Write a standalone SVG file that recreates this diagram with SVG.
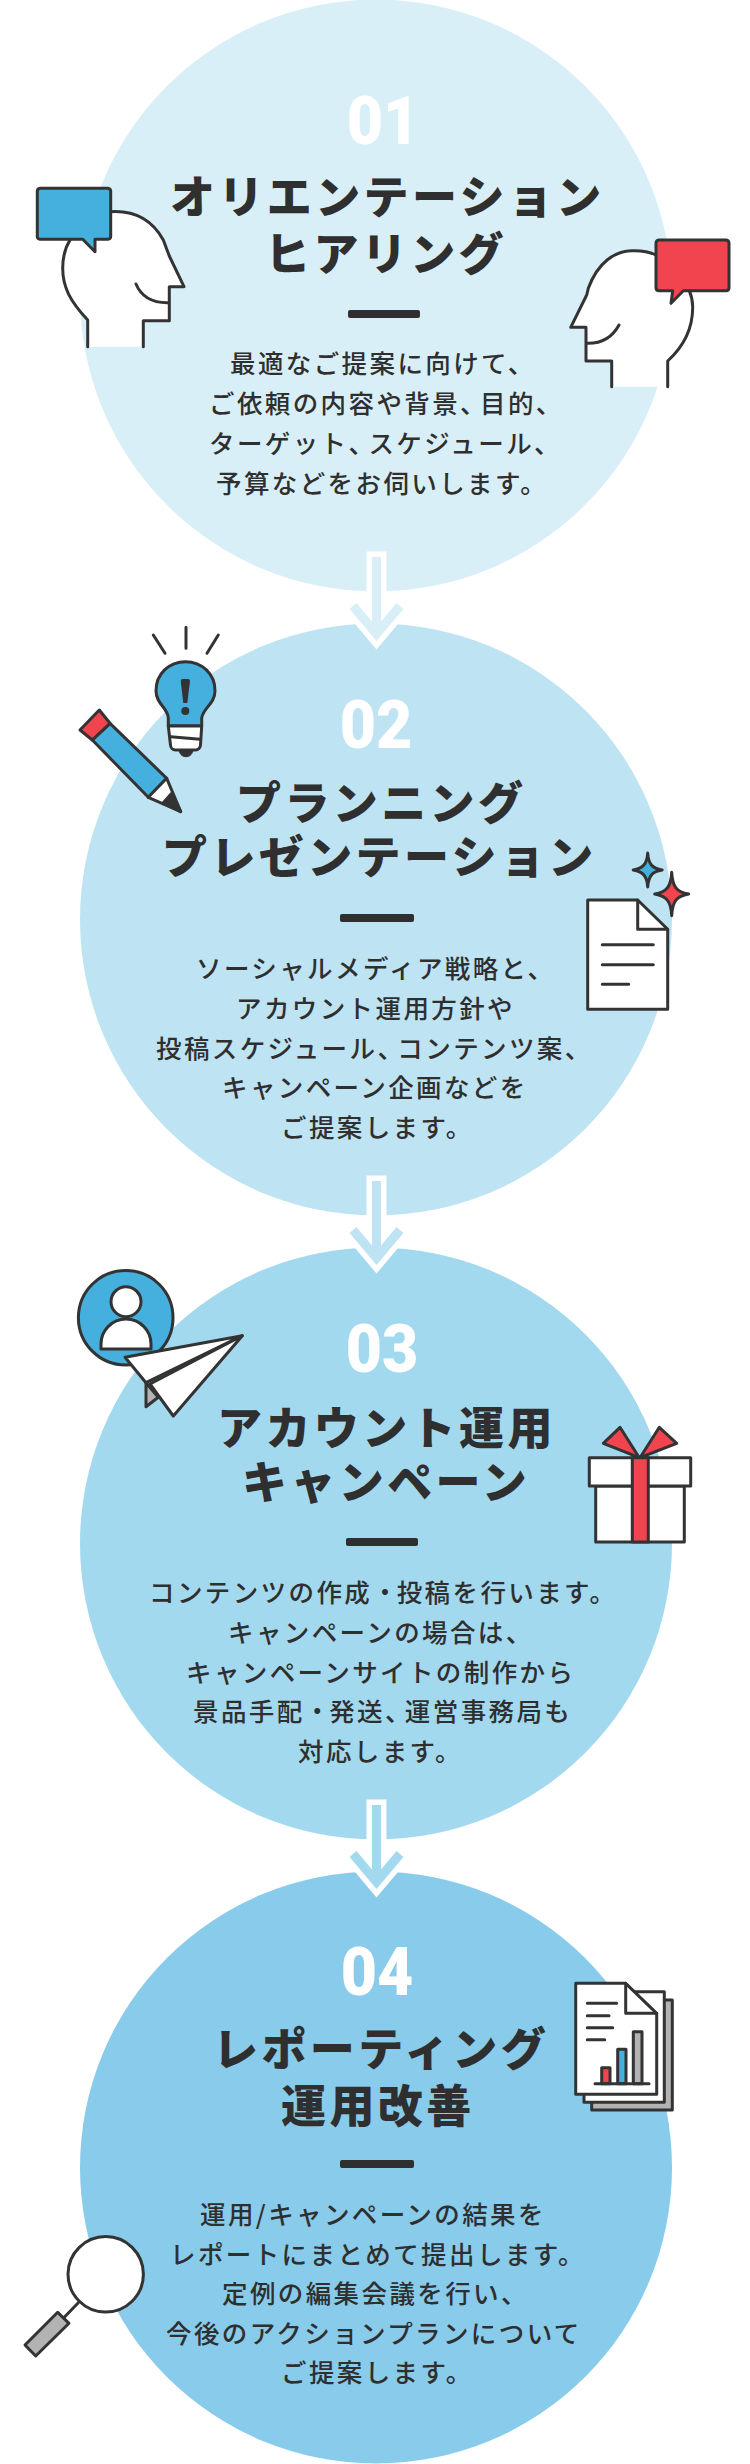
<svg xmlns="http://www.w3.org/2000/svg" width="750" height="2464" viewBox="0 0 750 2464">
<style>
text{font-family:"Noto Sans CJK JP","Noto Sans",sans-serif;fill:#2f2f2f}
.num{font-family:Roboto,"Liberation Sans",sans-serif;font-weight:900;font-size:66px;fill:#fff;text-anchor:middle}
.h{font-weight:900;font-size:45px;letter-spacing:3.4px}
.b{font-weight:500;font-size:25.5px;letter-spacing:2.4px}
.c{letter-spacing:-5.6px}
.n{letter-spacing:-1px}
.bar{fill:#2f2f2f}
.i{stroke:#333;stroke-width:3;stroke-linejoin:round;stroke-linecap:round}
.l{fill:none}
.w{fill:#fff}.bl{fill:#45b0dd}.r{fill:#f2444e}.g{fill:#b3b3b3}.d{fill:#333}
</style>
<g id="node-1">
<circle cx="376" cy="295.5" r="296" fill="#d9eff8"/>
<text class="num" transform="translate(383 144) scale(.95 1)">01</text>
<text class="h" x="170" y="213.5">オリエンテーション</text>
<text class="h" x="265" y="270.5">ヒアリング</text>
<rect class="bar" x="348" y="310" width="72" height="8" rx="2"/>
<text class="b" x="230" y="372.5">最適なご提案に向けて、</text>
<text class="b" x="209" y="412.5">ご依頼の内容や背景<tspan class="c">、</tspan>目的、</text>
<text class="b" x="209" y="452.5">ターゲット<tspan class="c">、</tspan>スケジュール、</text>
<text class="b" x="216" y="492.5">予算などをお伺いします。</text>
<g class="i">
<path class="w" stroke="none" d="M87.7 346.7V320C70 301 62.7 287 62.7 268.3 62.7 258 65 248 70 240L110.7 211.7C140 210 155 225 163.3 240L169.3 256 184 286.7H169.3V320.7H143.3V346.7Z"/>
<path class="l" d="M110.7 211.7C140 210 155 225 163.3 240L169.3 256 184 286.7H169.3V320.7H143.3V346.7M87.7 346.7V320C70 301 62.7 287 62.7 268.3 62.7 258 65 248 70 240M136 284C141 296 152 303 168.3 302.7"/>
<path class="bl" d="M40 188.3H108A3 3 0 0 1 110.7 191V236.5A3 3 0 0 1 108 239.3H95V251.7L82.7 239.3H40A3 3 0 0 1 37.3 236.5V191A3 3 0 0 1 40 188.3Z"/>
<path class="w" stroke="none" d="M611.7 386.7V361H586V327.3H570.7L586.7 295 588.3 288.3C598 262 615 251 632 250.7 640 250.5 650 252 656 255L689.3 290.7C692 297 692.7 302 692.7 307.3 692.7 330 682 348 667.7 361V386.7Z"/>
<path class="l" d="M611.7 386.7V361H586V327.3H570.7L586.7 295 588.3 288.3C598 262 615 251 632 250.7 640 250.5 650 252 656 255M689.3 290.7C692 297 692.7 302 692.7 307.3 692.7 330 682 348 667.7 361V386.7M619 325C612 338 602 344 586 343.3"/>
<path class="r" d="M659 240H726A3 3 0 0 1 729 243V288A3 3 0 0 1 726 290.7H683.3L671 303.3 672.7 290.7H659A3 3 0 0 1 656 288V243A3 3 0 0 1 659 240Z"/>
</g>
</g>
<g id="node-2">
<circle cx="376" cy="919.5" r="296" fill="#bee3f3"/>
<text class="num" transform="translate(376 748) scale(.95 1)">02</text>
<text class="h" x="236" y="819.5">プランニング</text>
<text class="h" x="162" y="873.5">プレゼンテーション</text>
<rect class="bar" x="340" y="914" width="74" height="8" rx="2"/>
<text class="b" x="196" y="977.5">ソーシャルメディア戦略と、</text>
<text class="b" x="236" y="1017.5">アカウント運用方針や</text>
<text class="b" x="156" y="1057.5">投稿スケジュール<tspan class="c">、</tspan>コンテンツ案、</text>
<text class="b" x="222" y="1096.5">キャンペーン企画などを</text>
<text class="b" x="281" y="1136.5">ご提案します。</text>
<g class="i">
<path class="l" d="M153.3 635 165 653.3M186 627.3V648.3M218.3 635 207 653.3"/>
<path class="bl" d="M168.3 726V718C168 708 156 704 156 690.7 156 674 169 661.7 185.5 661.7S215 674 215 690.7C215 704 203 708 201.7 718V726Z"/>
<path class="w" d="M168.3 726H201.7L200.5 745A5 5 0 0 1 195.5 750H175.5A5 5 0 0 1 170.5 745Z"/>
<path class="l" d="M170.7 736.7 200 739.3"/>
<path class="d" stroke-width="1" d="M179.3 751H192.7C192 755 189 756.7 186 756.7S180 755 179.3 751Z"/>
<path class="d" stroke="none" d="M180.7 681A2 2 0 0 1 182.7 679H188A2 2 0 0 1 190 681L187.3 703H183.3Z"/>
<circle class="d" stroke="none" cx="185.3" cy="711" r="4"/>
<path class="bl" d="M110 723.3 166.7 778.3 148.3 797.3 92.3 740Z"/>
<path class="r" d="M99.3 710 110 723.3 92.3 740 80 730Z"/>
<path class="w" d="M166.7 778.3 180.7 811.7 148.3 797.3Z"/>
<path class="d" d="M171.7 793.3 180.7 811.7 163.3 802.7Z"/>
<path class="w" d="M587.7 900H637.7L667.7 929.3V1009.3H587.7Z"/>
<path class="l" d="M637.7 900V929.3H667.7M602.3 944.7H653.3M602.3 964.7H653.3M602.3 984.3H628.7"/>
<path class="bl" d="M647.7 853C648.5 864 652 868.5 662.2 870 652 871.5 648.5 876 647.7 887 647 876 643 871.5 633.2 870 643 868.5 647 864 647.7 853Z"/>
<path class="r" d="M671.7 872.3C672.5 886 676 892 688.7 894 676 896 672.5 902 671.7 915.7 671 902 667 896 654.7 894 667 892 671 886 671.7 872.3Z"/>
</g>
</g>
<g id="node-3">
<circle cx="376" cy="1543.5" r="296" fill="#a3d9ef"/>
<text class="num" transform="translate(382 1372) scale(.95 1)">03</text>
<text class="h" x="217" y="1444.5">アカウント運用</text>
<text class="h" x="242" y="1498.5">キャンペーン</text>
<rect class="bar" x="346" y="1538" width="72" height="8" rx="2"/>
<text class="b" x="149" y="1601.5">コンテンツの作成<tspan class="n">・</tspan>投稿を行います。</text>
<text class="b" x="228" y="1641.5">キャンペーンの場合は、</text>
<text class="b" x="186" y="1681.5">キャンペーンサイトの制作から</text>
<text class="b" x="193" y="1720.5">景品手配<tspan class="n">・</tspan>発送<tspan class="c">、</tspan>運営事務局も</text>
<text class="b" x="298" y="1760.5">対応します。</text>
<g class="i">
<circle class="bl" cx="125.7" cy="1317.7" r="47.3"/>
<circle class="w" cx="126" cy="1301.7" r="15"/>
<path class="w" d="M101 1349V1344A25 25 0 0 1 151 1344V1349Z"/>
<path class="g" d="M146 1382.7V1406.7L158.3 1397.3Z"/>
<path class="w" d="M242.3 1335.7 125 1357.3 146 1382.7Z"/>
<path class="w" d="M242.3 1335.7 150 1384 173.3 1416Z"/>
</g>
<g class="i">
<path class="r" d="M639.3 1457.7 603.3 1443.3 620 1427.3ZM640 1457.7 676.7 1443.3 659.3 1427.3Z"/>
<rect class="w" x="595.7" y="1486" width="88.6" height="56"/>
<rect class="w" x="589.3" y="1457.7" width="101.4" height="28.3"/>
<rect class="r" x="632.3" y="1457.7" width="16" height="84.3"/>
</g>
</g>
<g id="node-4">
<circle cx="376" cy="2167.5" r="296" fill="#88cbea"/>
<text class="num" transform="translate(377 1995) scale(.95 1)">04</text>
<text class="h" x="213" y="2065.5">レポーティング</text>
<text class="h" x="281" y="2122.5">運用改善</text>
<rect class="bar" x="340" y="2160" width="74" height="8" rx="2"/>
<text class="b" x="200" y="2223.5">運用/キャンペーンの結果を</text>
<text class="b" x="170" y="2263.5">レポートにまとめて提出します。</text>
<text class="b" x="222" y="2302.5">定例の編集会議を行い、</text>
<text class="b" x="166" y="2342.5">今後のアクションプランについて</text>
<text class="b" x="281" y="2381.5">ご提案します。</text>
<g class="i">
<rect class="g" x="591.7" y="2000" width="80.6" height="110"/>
<rect class="w" x="584" y="1991.7" width="80.3" height="110.6"/>
<path class="w" d="M575.7 1983.3H625.7L656.7 2013.3V2094.3H575.7Z"/>
<path class="l" d="M625.7 1983.3V2013.3H656.7M587.3 2003.3H616.7M587.3 2015.7H609M587.3 2027.7H612.7M587.3 2039.7H604.7"/>
<rect class="r" x="601.7" y="2067.7" width="8.3" height="16"/>
<rect class="bl" x="617.7" y="2049.3" width="8.3" height="34.4"/>
<rect class="g" x="633.3" y="2031.7" width="8.7" height="52"/>
<path class="l" d="M595 2083.7H649"/>
<path class="l" d="M78.3 2302.7 64.3 2317.3"/>
<path class="g" d="M57.7 2312.3 69 2323.3 35.7 2356 25 2345Z"/>
<circle class="w" cx="105.7" cy="2274.3" r="37.7"/>
</g>
</g>
<g id="connectors" fill="none">
<g id="arrow-1"><path stroke="#fff" stroke-width="20" stroke-linecap="butt" d="M376.5 551.5V630M353 606 376.5 634 400 606"/><path stroke="#d9eff8" stroke-width="9" d="M376.5 557V630M353 606 376.5 634 400 606"/></g>
<g id="arrow-2"><path stroke="#fff" stroke-width="20" d="M376.5 1175.5V1254M353 1230 376.5 1258 400 1230"/><path stroke="#bee3f3" stroke-width="9" d="M376.5 1181V1254M353 1230 376.5 1258 400 1230"/></g>
<g id="arrow-3"><path stroke="#fff" stroke-width="20" d="M376.5 1799.5V1878M353 1854 376.5 1882 400 1854"/><path stroke="#a3d9ef" stroke-width="9" d="M376.5 1805V1878M353 1854 376.5 1882 400 1854"/></g>
</g>
</svg>
